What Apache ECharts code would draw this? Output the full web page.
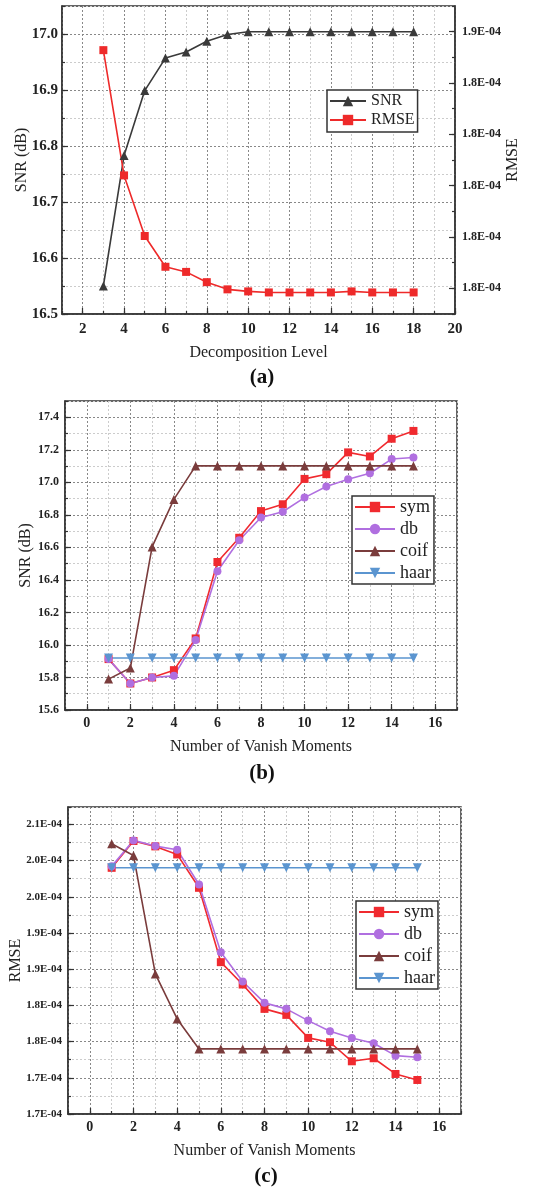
<!DOCTYPE html>
<html>
  <head>
    <meta charset="utf-8" />
    <title>Wavelet decomposition / vanishing moments</title>
    <script src="https://cdn.jsdelivr.net/npm/echarts@6/dist/echarts.min.js"></script>
    <style>
      * {
        margin: 0;
        padding: 0;
        box-sizing: border-box;
      }
      body {
        background: #fff;
      }
    </style>
  </head>
  <body>
    <div id="main" style="width: 543px; height: 1190px"></div>
    <script type="text/javascript">
      // (a) decomposition level
      const levels = [3, 4, 5, 6, 7, 8, 9, 10, 11, 12, 13, 14, 15, 16, 17, 18];
      const snrA = [16.55, 16.783, 16.899, 16.957, 16.968, 16.987, 16.999, 17.004, 17.004, 17.004, 17.004, 17.004, 17.004, 17.004, 17.004, 17.004];
      const rmseA = [1.8482e-4, 1.836e-4, 1.8301e-4, 1.8271e-4, 1.8266e-4, 1.8256e-4, 1.8249e-4, 1.8247e-4, 1.8246e-4, 1.8246e-4, 1.8246e-4, 1.8246e-4, 1.8247e-4, 1.8246e-4, 1.8246e-4, 1.8246e-4];
      const xTicksA = [2, 4, 6, 8, 10, 12, 14, 16, 18, 20];
      const snrTicksA = [16.5, 16.6, 16.7, 16.8, 16.9, 17.0];
      const rmseTicksA = [1.825e-4, 1.83e-4, 1.835e-4, 1.84e-4, 1.845e-4, 1.85e-4];

      // (b) and (c) number of vanishing moments
      const moments = [1, 2, 3, 4, 5, 6, 7, 8, 9, 10, 11, 12, 13, 14, 15];
      const symSnr = [15.913, 15.763, 15.8, 15.845, 16.04, 16.51, 16.659, 16.823, 16.865, 17.021, 17.05, 17.184, 17.159, 17.268, 17.316];
      const dbSnr = [15.913, 15.763, 15.8, 15.81, 16.03, 16.453, 16.644, 16.784, 16.819, 16.906, 16.974, 17.019, 17.056, 17.143, 17.153];
      const coifSnr = [15.79, 15.858, 16.603, 16.895, 17.101, 17.101, 17.101, 17.101, 17.101, 17.101, 17.101, 17.101, 17.101, 17.101, 17.101];
      const haarSnr = [15.92, 15.92, 15.92, 15.92, 15.92, 15.92, 15.92, 15.92, 15.92, 15.92, 15.92, 15.92, 15.92, 15.92, 15.92];
      const symRmse = [1.99e-4, 2.027e-4, 2.0196e-4, 2.0085e-4, 1.9624e-4, 1.8597e-4, 1.8288e-4, 1.7952e-4, 1.7869e-4, 1.7551e-4, 1.7491e-4, 1.7228e-4, 1.727e-4, 1.7053e-4, 1.697e-4];
      const dbRmse = [1.992e-4, 2.0279e-4, 2.02e-4, 2.015e-4, 1.967e-4, 1.8735e-4, 1.833e-4, 1.8035e-4, 1.7952e-4, 1.779e-4, 1.7643e-4, 1.755e-4, 1.7477e-4, 1.7306e-4, 1.7283e-4];
      const coifRmse = [2.0233e-4, 2.0071e-4, 1.8435e-4, 1.7813e-4, 1.7399e-4, 1.7399e-4, 1.7399e-4, 1.7399e-4, 1.7399e-4, 1.7399e-4, 1.7399e-4, 1.7399e-4, 1.7399e-4, 1.7399e-4, 1.7399e-4];
      const haarRmse = [1.99e-4, 1.99e-4, 1.99e-4, 1.99e-4, 1.99e-4, 1.99e-4, 1.99e-4, 1.99e-4, 1.99e-4, 1.99e-4, 1.99e-4, 1.99e-4, 1.99e-4, 1.99e-4, 1.99e-4];
      const xTicksBC = [0, 2, 4, 6, 8, 10, 12, 14, 16];
      const snrTicksB = [15.6, 15.8, 16.0, 16.2, 16.4, 16.6, 16.8, 17.0, 17.2, 17.4];
      const rmseTicksC = [1.65e-4, 1.7e-4, 1.75e-4, 1.8e-4, 1.85e-4, 1.9e-4, 1.95e-4, 2.0e-4, 2.05e-4];

      const FONT = "Liberation Serif";
      const AXIS = "#333";
      const MAJ = "#888";
      const MIN = "#cccccc";

      var myChart = echarts.init(document.getElementById("main"));

      // "1.8E-04" style labels
      function sci(v) {
        const m = Math.round(v * 1e5 + 1e-9) / 10;
        return m.toFixed(1) + "E-04";
      }

      // axis carrying minor ticks, grid lines and the labels
      function mainAxis(o) {
        return {
          type: "value",
          gridIndex: o.grid,
          position: o.pos,
          min: o.min,
          max: o.max,
          interval: o.interval,
          axisLine: { show: true, onZero: false, lineStyle: { color: AXIS, width: 1.5 } },
          axisTick: { show: true, inside: true, length: 3, lineStyle: { color: AXIS, width: 1.2 } },
          axisLabel: {
            customValues: o.labels,
            formatter: o.fmt,
            margin: o.margin,
            fontFamily: FONT,
            fontWeight: "bold",
            fontSize: o.fontSize,
            color: "#222",
          },
          splitLine: o.lines
            ? { show: true, lineStyle: { color: o.lines, type: [2, 2], width: 1 } }
            : { show: false },
          name: o.name,
          nameLocation: "middle",
          nameGap: o.nameGap,
          nameRotate: o.nameRotate,
          nameMoveOverlap: false,
          nameTextStyle: { fontFamily: FONT, fontSize: 16, color: "#222" },
        };
      }

      // overlay axis that only draws the longer major ticks
      function majorTicks(grid, pos, min, max, values) {
        return {
          type: "value",
          gridIndex: grid,
          position: pos,
          min: min,
          max: max,
          axisLine: { show: false, onZero: false },
          axisLabel: { show: false },
          splitLine: { show: false },
          axisTick: {
            show: true,
            inside: true,
            length: 6,
            customValues: values,
            lineStyle: { color: AXIS, width: 1.2 },
          },
        };
      }

      function legendBox(left, top, names, itemWidth, fontSize, gap, padding) {
        return {
          left: left,
          top: top,
          orient: "vertical",
          data: names,
          itemWidth: itemWidth,
          itemHeight: 13,
          itemGap: gap,
          padding: padding,
          borderColor: AXIS,
          borderWidth: 1.5,
          backgroundColor: "#fff",
          textStyle: { fontFamily: FONT, fontSize: fontSize, color: "#222" },
        };
      }

      function pairs(xs, ys) {
        return xs.map((x, i) => [x, ys[i]]);
      }

      function lineSeries(name, xi, yi, xs, ys, color, symbol, size, rotate) {
        return {
          name: name,
          type: "line",
          xAxisIndex: xi,
          yAxisIndex: yi,
          data: pairs(xs, ys),
          symbol: symbol,
          symbolSize: size,
          symbolRotate: rotate || 0,
          showAllSymbol: true,
          color: color,
          itemStyle: { color: color },
          lineStyle: { color: color, width: 1.6 },
        };
      }

      const bold20 = "bold 21px '" + FONT + "'";
      const gridBase = {
        show: true,
        borderColor: AXIS,
        borderWidth: 1.5,
        containLabel: false,
        outerBoundsMode: "none",
      };

      var option = {
        animation: false,
        backgroundColor: "#fff",
        grid: [
          Object.assign({ left: 62, top: 6, width: 393, height: 308 }, gridBase),
          Object.assign({ left: 65, top: 401, width: 392, height: 309 }, gridBase),
          Object.assign({ left: 68, top: 807, width: 393, height: 307 }, gridBase),
        ],
        xAxis: [
          mainAxis({
            grid: 0, pos: "bottom", min: 1, max: 20, interval: 1, labels: xTicksA,
            fmt: (v) => String(v), margin: 8, fontSize: 15, lines: [MIN, MAJ],
            name: "Decomposition Level", nameGap: 31,
          }),
          mainAxis({
            grid: 1, pos: "bottom", min: -1, max: 17, interval: 1, labels: xTicksBC,
            fmt: (v) => String(v), margin: 6, fontSize: 14, lines: [MIN, MAJ],
            name: "Number of Vanish Moments", nameGap: 29,
          }),
          mainAxis({
            grid: 2, pos: "bottom", min: -1, max: 17, interval: 1, labels: xTicksBC,
            fmt: (v) => String(v), margin: 6, fontSize: 14, lines: [MIN, MAJ],
            name: "Number of Vanish Moments", nameGap: 29,
          }),
          majorTicks(0, "bottom", 1, 20, xTicksA),
          majorTicks(1, "bottom", -1, 17, xTicksBC),
          majorTicks(2, "bottom", -1, 17, xTicksBC),
        ],
        yAxis: [
          mainAxis({
            grid: 0, pos: "left", min: 16.5, max: 17.05, interval: 0.05, labels: snrTicksA,
            fmt: (v) => v.toFixed(1), margin: 4, fontSize: 15, lines: [MAJ, MIN],
            name: "SNR (dB)", nameGap: 32, nameRotate: 90,
          }),
          mainAxis({
            grid: 0, pos: "right", min: 1.8225e-4, max: 1.8525e-4, interval: 0.0025e-4, labels: rmseTicksA,
            fmt: sci, margin: 7, fontSize: 12, lines: null,
            name: "RMSE", nameGap: 50, nameRotate: 90,
          }),
          mainAxis({
            grid: 1, pos: "left", min: 15.6, max: 17.5, interval: 0.1, labels: snrTicksB,
            fmt: (v) => v.toFixed(1), margin: 6, fontSize: 12, lines: [MAJ, MIN],
            name: "SNR (dB)", nameGap: 31, nameRotate: 90,
          }),
          mainAxis({
            grid: 2, pos: "left", min: 1.65e-4, max: 2.074e-4, interval: 0.025e-4, labels: rmseTicksC,
            fmt: sci, margin: 6, fontSize: 11, lines: [MAJ, MIN],
            name: "RMSE", nameGap: 44, nameRotate: 90,
          }),
          majorTicks(0, "left", 16.5, 17.05, snrTicksA),
          majorTicks(0, "right", 1.8225e-4, 1.8525e-4, rmseTicksA),
          majorTicks(1, "left", 15.6, 17.5, snrTicksB),
          majorTicks(2, "left", 1.65e-4, 2.074e-4, rmseTicksC),
        ],
        legend: [
          legendBox(327, 90, ["SNR", "RMSE"], 36, 16, 3, [3, 3, 4, 2]),
          legendBox(352, 496, ["sym", "db", "coif", "haar"], 40, 18, 4, [2, 3, 2, 2]),
          legendBox(356, 901, ["sym", "db", "coif", "haar"], 40, 18, 4, [2, 3, 2, 2]),
        ],
        graphic: [
          { type: "text", x: 262, y: 378, style: { text: "(a)", font: bold20, fill: "#111", textAlign: "center", textVerticalAlign: "middle" } },
          { type: "text", x: 262, y: 774, style: { text: "(b)", font: bold20, fill: "#111", textAlign: "center", textVerticalAlign: "middle" } },
          { type: "text", x: 266, y: 1177, style: { text: "(c)", font: bold20, fill: "#111", textAlign: "center", textVerticalAlign: "middle" } },
        ],
        series: [
          lineSeries("SNR", 0, 0, levels, snrA, "#3a3a3a", "triangle", 9),
          lineSeries("RMSE", 0, 1, levels, rmseA, "#ee2a2a", "rect", 8),

          lineSeries("sym", 1, 2, moments, symSnr, "#f02a2f", "rect", 8),
          lineSeries("db", 1, 2, moments, dbSnr, "#b06fe0", "circle", 8),
          lineSeries("coif", 1, 2, moments, coifSnr, "#7a3c3c", "triangle", 9),
          lineSeries("haar", 1, 2, moments, haarSnr, "#5b95d0", "triangle", 9, 180),

          lineSeries("sym", 2, 3, moments, symRmse, "#f02a2f", "rect", 8),
          lineSeries("db", 2, 3, moments, dbRmse, "#b06fe0", "circle", 8),
          lineSeries("coif", 2, 3, moments, coifRmse, "#7a3c3c", "triangle", 9),
          lineSeries("haar", 2, 3, moments, haarRmse, "#5b95d0", "triangle", 9, 180),
        ],
      };

      myChart.setOption(option);

      window.addEventListener("resize", function () {
        myChart.resize();
      });
    </script>
  </body>
</html>
